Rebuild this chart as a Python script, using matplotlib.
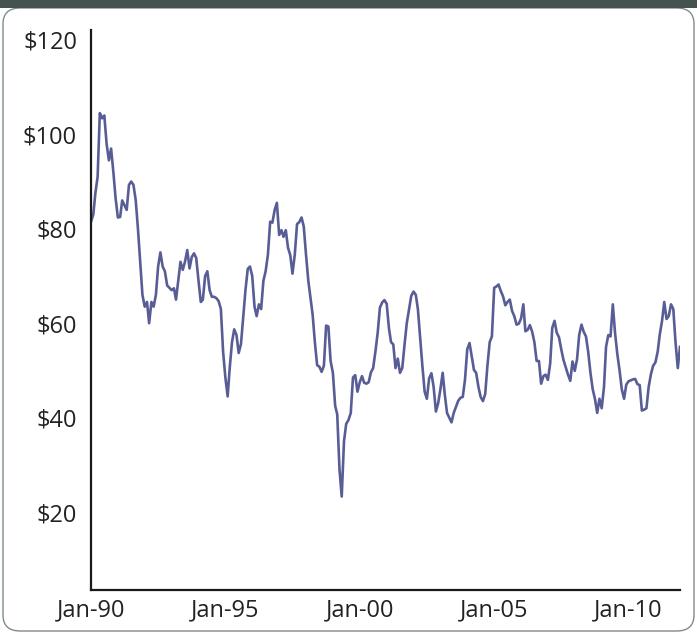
import matplotlib
matplotlib.use("Agg")
import matplotlib.pyplot as plt
import matplotlib.dates as mdates
from matplotlib.patches import FancyBboxPatch, Rectangle
import pandas as pd

plt.rcParams['font.family'] = ['Open Sans', 'DejaVu Sans']

start_month = "1990-01-01"
prices = [
    81.5, 83, 87.5, 91, 104.5, 103.4, 104, 98, 94.5, 97, 92, 86.5,
    82.4, 82.5, 86, 85, 84, 89.3, 90, 89.3, 86, 80, 73, 66,
    63.5, 64.5, 60, 64.5, 63.5, 66, 72, 75, 72, 71, 68, 67.5,
    67, 67.4, 65, 69, 73, 71.3, 73, 75.5, 71.6, 74, 74.8, 73.8,
    69, 64.5, 65, 70, 71, 67, 65.6, 65.6, 65.3, 64.7, 63, 54,
    48.5, 44.5, 50.5, 56, 58.7, 57.5, 53.7, 55.6, 61.5, 67, 71.5, 72,
    70, 63.5, 61.5, 64, 63, 69, 71, 74.5, 81.5, 81.3, 84, 85.5,
    78.7, 79.7, 78.3, 79.7, 76, 74.4, 70.5, 74.5, 81, 81.4, 82.4, 80.5,
    74.5, 69, 65.5, 61.8, 56, 51.1, 50.8, 49.7, 51, 59.5, 59.3, 52,
    49.5, 42.5, 40.7, 29, 23.3, 35, 38.7, 39.5, 41, 48.5, 49, 45.5,
    47.5, 48.8, 47.4, 47.2, 47.5, 49.6, 50.5, 54, 58, 63.3, 64.4, 64.9,
    64.1, 58.9, 56, 55.5, 50.5, 52.5, 49.5, 50.5, 55.5, 60, 63, 65.8,
    66.7, 66, 63, 57, 51, 45.5, 44, 48.3, 49.4, 46.5, 41.3, 43,
    46, 49.5, 45, 41, 40, 39, 41, 42.3, 43.6, 44.2, 44.4, 48,
    54.5, 55.8, 53, 50.1, 49.5, 46.5, 44.4, 43.5, 45, 51, 56, 57.2,
    67.5, 67.8, 68.2, 66.8, 65.7, 63.8, 64.5, 65, 62.6, 61.5, 59.7, 59.9,
    61, 64, 58.3, 58.6, 59.6, 58.2, 56, 52, 52, 47.2, 48.8, 49.1,
    48, 51.5, 59, 60.5, 58, 57, 54.5, 52.2, 50.6, 49.1, 47.8, 51.9,
    49.9, 52.4, 57.5, 59.7, 58.2, 57.2, 54, 49.5, 46, 44, 41, 44,
    42, 46.5, 55, 57.5, 57.2, 64, 58, 53.5, 50, 46, 44, 47,
    47.7, 47.9, 48.1, 48.2, 47.1, 46.9, 41.5, 41.7, 42, 46.5, 49.2, 51,
    51.7, 54, 57.6, 60.5, 64.5, 60.9, 61.5, 64, 63, 56, 50.5, 55,
]
y_ticks = [20, 40, 60, 80, 100, 120]
y_tick_labels = ["$20", "$40", "$60", "$80", "$100", "$120"]
x_tick_dates = ["1990-01-01", "1995-01-01", "2000-01-01", "2005-01-01", "2010-01-01"]

dates = pd.date_range(start_month, periods=len(prices), freq="MS")

W, H = 697, 635
fig = plt.figure(figsize=(W / 100, H / 100), dpi=100)
fig.patch.set_facecolor("white")

# frame: rounded border and dark top band
box = FancyBboxPatch((3 / W, 4 / H), (W - 6) / W, (H - 12) / H,
                     boxstyle="round,pad=0,rounding_size=0.025",
                     transform=fig.transFigure, facecolor="white",
                     edgecolor="#7f8c8a", linewidth=1.0, zorder=-2)
fig.patches.append(box)
band = Rectangle((0, 1 - 8 / H), 1, 8 / H, transform=fig.transFigure,
                 facecolor="#44534f", edgecolor="none", zorder=-1)
fig.patches.append(band)

ax = fig.add_axes([91 / W, 1 - 590 / H, (680 - 91) / W, (590 - 30) / H])
ax.set_zorder(2)
ax.set_facecolor("none")
ax.plot(dates, prices, color="#585e95", linewidth=1.9, solid_joinstyle="round")

ax.set_xlim(dates[0], dates[-1])
ax.set_ylim(3.5, 122.1)
ax.set_yticks(y_ticks)
ax.set_yticklabels(y_tick_labels)
ax.set_xticks(pd.to_datetime(x_tick_dates))
ax.xaxis.set_major_formatter(mdates.DateFormatter("%b-%y"))
ax.tick_params(axis="both", length=0, labelsize=17, colors="#222222")
ax.tick_params(axis="y", pad=10)
ax.tick_params(axis="x", pad=6)
for s in ["top", "right"]:
    ax.spines[s].set_visible(False)
for s in ["left", "bottom"]:
    ax.spines[s].set_color("#1a1a1a")
    ax.spines[s].set_linewidth(1.6)

fig.savefig("out.png", dpi=100)
